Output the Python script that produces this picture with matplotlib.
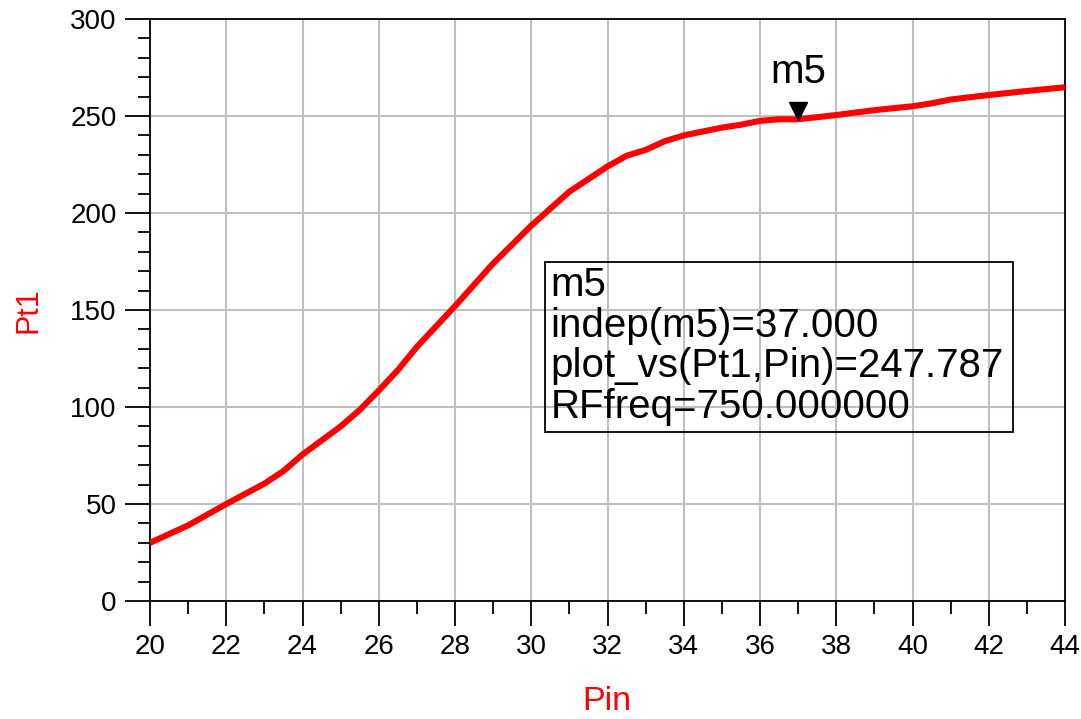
import matplotlib
matplotlib.use("Agg")
import matplotlib.pyplot as plt
import matplotlib.transforms as mtransforms
from matplotlib.patches import Rectangle
from matplotlib.ticker import MultipleLocator

plt.rcParams['font.family'] = ['Liberation Sans', 'DejaVu Sans']

# datos
pin = [20, 21, 22, 23, 23.5, 24, 25, 25.5, 26, 26.5, 27, 28, 29, 30, 31, 32, 32.5, 33,
       33.5, 34, 35, 35.5, 36, 36.5, 37, 38, 39, 40, 40.5, 41, 42, 43, 44]
pt1 = [30, 39, 50, 60.5, 67, 75.5, 90, 98.5, 108.5, 119, 131, 152, 174, 193.5, 211, 224,
       229.5, 232.5, 237, 240, 244, 245.5, 247.5, 248.3, 248.3, 250.5, 253, 255, 256.5,
       258.5, 260.8, 262.9, 264.8]

marcador_x = 37.0
marcador_y = 247.787
texto_marcador = ["m5", "indep(m5)=37.000", "plot_vs(Pt1,Pin)=247.787", "RFfreq=750.000000"]

fig = plt.figure(figsize=(10.81, 7.19), dpi=100)
ax = fig.add_axes([0.1388, 0.1641, 0.8464, 0.8095])

ax.plot(pin, pt1, color='#ff0000', lw=4.4, solid_capstyle='butt', zorder=3)

ax.set_xlim(20, 44)
ax.set_ylim(0, 300)
ax.xaxis.set_major_locator(MultipleLocator(2))
ax.xaxis.set_minor_locator(MultipleLocator(1))
ax.yaxis.set_major_locator(MultipleLocator(50))
ax.yaxis.set_minor_locator(MultipleLocator(10))
ax.grid(which='major', color='#c0c0c0', lw=1.5, zorder=0)
ax.tick_params(which='major', direction='out', length=18, width=1.3, labelsize=20, pad=6)
ax.tick_params(which='minor', direction='out', length=9, width=1.3)
for s in ax.spines.values():
    s.set_linewidth(1.3)

ax.set_xlabel('Pin', color='#ff0000', fontsize=24.5, va='baseline', ha='center')
ax.set_ylabel('Pt1', color='#ff0000', fontsize=22, va='center', ha='center')
ax.xaxis.set_label_coords(0.4995, -0.188)
ax.yaxis.set_label_coords(-0.133, 0.5)

# marcador m5
trans = mtransforms.offset_copy(ax.transData, fig=fig, y=7, units='points')
ax.plot([marcador_x], [marcador_y], marker='v', ms=13, color='black', transform=trans,
        zorder=5, clip_on=False)
ax.annotate('m5', (marcador_x, marcador_y), xytext=(0, 21), textcoords='offset points',
            ha='center', va='bottom', fontsize=29)

# caja del marcador (sin relleno, la rejilla se ve a traves)
ax.add_patch(Rectangle((30.36, 87.1), 12.28, 87.6, facecolor='none', edgecolor='black',
                       lw=1.3, zorder=6))
ax.text(30.5, 172.5, "\n".join(texto_marcador), fontsize=29, va='top', ha='left',
        linespacing=1.08, zorder=7)

fig.savefig('out.png', dpi=100)
